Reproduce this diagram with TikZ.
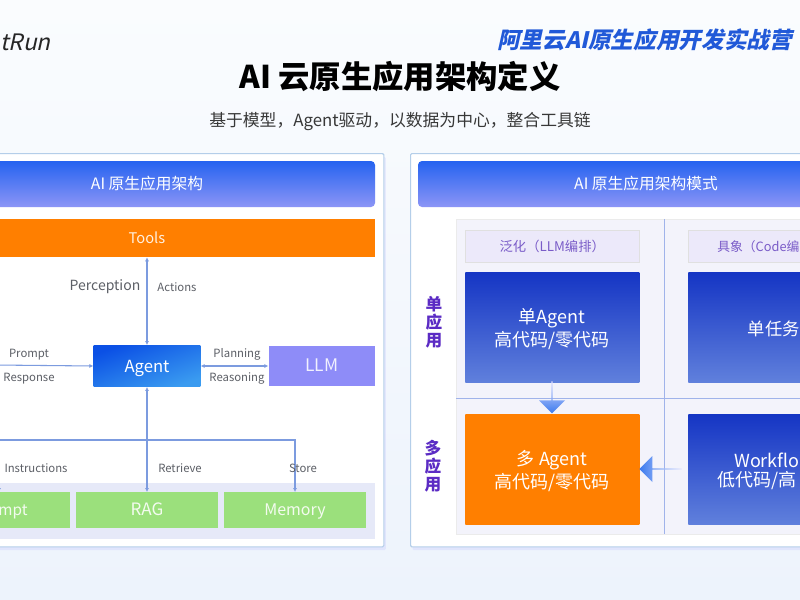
\documentclass[tikz,border=0pt]{standalone}
\usepackage{fontspec}
\setmainfont{Noto Sans CJK SC}
\newfontfamily\brandfont[FakeSlant=0.22]{Noto Sans CJK SC}
\usepackage{xcolor}
\usetikzlibrary{arrows.meta,calc,positioning,shadows,shapes.arrows}
\definecolor{pagetop}{HTML}{FAFCFE}
\definecolor{pagebot}{HTML}{EDF3FC}
\definecolor{linkblue}{HTML}{7C9BDF}
\definecolor{labelgray}{HTML}{5C5F66}
\definecolor{cardedge}{HTML}{B4CEE9}
\definecolor{headtop}{HTML}{2563F0}
\definecolor{headbot}{HTML}{8C95F6}
\definecolor{boxtop}{HTML}{1535C4}
\definecolor{boxbot}{HTML}{6080DC}
\definecolor{agentdark}{HTML}{0B50E5}
\definecolor{agentlight}{HTML}{3A9BF0}
\definecolor{toolorange}{HTML}{FF7F00}
\definecolor{leafgreen}{HTML}{9BE07C}
\definecolor{llmviolet}{HTML}{8E8CF8}
\definecolor{bandbg}{HTML}{E6E9F8}
\definecolor{cellbg}{HTML}{F3F3FB}
\definecolor{tagbg}{HTML}{ECE9FA}
\definecolor{tagtext}{HTML}{7A5CC8}
\definecolor{sidetext}{HTML}{5B2BC4}
\definecolor{arrowblue}{HTML}{3B7AEE}
\newcommand{\px}[1]{\fontsize{#1}{#1}\selectfont}
\newcommand{\upstrut}{\rule{0pt}{14pt}}
\tikzset{
  card/.style={draw=cardedge,line width=0.8pt,fill=white,rounded corners=1pt,anchor=north west,inner sep=0pt,
    drop shadow={opacity=0.12,shadow xshift=1.5pt,shadow yshift=-2.5pt,fill=blue!50}},
  header/.style={top color=headtop,bottom color=headbot,rounded corners=3pt,text=white,inner sep=0pt,minimum height=34.5pt,font=\px{11.8},text height=10pt,text depth=1.6pt},
  flat/.style={fill=#1,text=white!88!#1,inner sep=0pt,font=\px{11},text height=10pt,text depth=1.4pt},
  modebox/.style={top color=boxtop,bottom color=boxbot,text=white,inner sep=0pt,anchor=north west,minimum width=130.5pt,minimum height=82.5pt,align=center,font=\px{13.5}},
  tagbox/.style={fill=tagbg,draw=black!12,text=tagtext,inner sep=0pt,anchor=north west,minimum width=130.5pt,minimum height=24pt,font=\px{10},text height=9pt,text depth=1.4pt},
  link/.style={draw=linkblue,line width=0.8pt,{Latex[length=3pt,width=3pt]}-{Latex[length=3pt,width=3pt]}},
  halflink/.style={draw=linkblue,line width=0.8pt,-{Latex[length=3pt,width=3pt]}},
  tag/.style={text=labelgray,inner sep=0pt,font=\px{8.5}},
  side/.style={text=sidetext,inner sep=0pt,font=\px{12.5}\bfseries,align=center},
  blockarrow/.style={single arrow,inner sep=0pt,single arrow head extend=3.5pt,single arrow head indent=0pt,minimum width=19.5pt,minimum height=#1},
}
\begin{document}
\begin{tikzpicture}[x=0.75pt,y=-0.75pt,>=Latex]
  \useasboundingbox (0,0) rectangle (800,600);
  \shade[top color=pagetop,bottom color=pagebot] (0,0) rectangle (800,600);
  \node[anchor=west,inner sep=0pt,text=black!85] (brand) at (0,42) {\brandfont\px{17}tRun};
  \node[anchor=west,inner sep=0pt,text=headtop!90!black] (camp) at (497,40) {\brandfont\px{17}\bfseries 阿里云AI原生应用开发实战营};
  \node[inner sep=0pt] (title) at (400,77) {\px{23.5}\bfseries AI 云原生应用架构定义};
  \node[inner sep=0pt,text=black!78] (subtitle) at (400,121.5) {\px{12.6}基于模型，Agent驱动，以数据为中心，整合工具链};

  \node[card,minimum width=400pt,minimum height=295pt] (leftcard) at (-150,153) {};
  \node[card,minimum width=400pt,minimum height=295pt] (rightcard) at (410,153) {};

  \node[header,minimum width=342pt] (lefthead) at (147,184) {AI 原生应用架构};
  \node[flat=toolorange,minimum width=342pt,minimum height=28.5pt] (tools) at (147,238) {Tools};
  \node[fill=bandbg,minimum width=342pt,minimum height=42pt,inner sep=0pt] (store) at (147,511) {};
  \node[left color=agentdark,right color=agentlight,shading angle=20,text=white,inner sep=0pt,minimum width=80pt,minimum height=31pt,font=\px{12.5},text height=10.5pt,text depth=1.4pt] (agent) at (147,366) {Agent};
  \node[flat=llmviolet,minimum width=80pt,minimum height=30pt,font=\px{13}] (llm) at (322,366) {LLM};
  \node[flat=leafgreen,minimum width=106.5pt,minimum height=26.5pt] (prompt) at (-1,510) {};
  \node[inner sep=0pt,text=white!88!leafgreen,font=\px{11.5}] (prompttext) at (13,511.5) {mpt};
  \node[flat=leafgreen,minimum width=106.5pt,minimum height=26.5pt,font=\px{12.8}] (rag) at (147,510) {RAG};
  \node[flat=leafgreen,minimum width=106.5pt,minimum height=26.5pt,font=\px{12}] (memory) at (295,510) {Memory};

  \coordinate (promptin) at (-5,365);
  \coordinate (branch) at (147,440);
  \draw[link] (tools) -- (agent);
  \draw[link] (agent) -- (rag);
  \draw[link] (agent.west) -- (promptin);
  \draw[link] (agent) -- (llm);
  \draw[halflink] (branch) -| (memory.north);
  \draw[halflink] (branch) -| (prompt.north);

  \node[tag,font=\px{10.5}] (perception) at (105,286.5) {Perception};
  \foreach \n/\x/\y/\lab in {actions/177/287/Actions,promptlab/29/354.5/Prompt,response/29/379/Response,planning/237/354/Planning,reasoning/237/379/Reasoning,instructions/36/468/Instructions,retrieve/180/468/Retrieve,storelab/303/468/Store} {
    \node[tag] (\n) at (\x,\y) {\lab};
  }

  \node[header,minimum width=342pt] (righthead) at (646,184) {AI 原生应用架构模式};
  \node[fill=cellbg,draw=black!8,anchor=north west,inner sep=0pt,minimum width=300pt,minimum height=236pt] (grid) at (456,219) {};
  \draw[draw=boxbot!60,line width=0.7pt] (664,219) -- (664,534);
  \draw[draw=boxbot!60,line width=0.7pt] (456,398) -- (800,398);

  \node[tagbox] (generic) at (465,230) {泛化（LLM编排）};
  \node[tagbox,font=\px{9.6},text width=87pt,align=left] (concrete) at (688,230) {具象（Code编};
  \node[modebox] (single) at (465,272) {\upstrut 单Agent\\[0.8pt]高代码/零代码};
  \node[modebox,font=\px{13},text width=41pt,align=left] (task) at (688,272) {\upstrut 单任务};
  \node[modebox,top color=toolorange,bottom color=toolorange] (multi) at (465,414) {\upstrut 多 Agent\\[0.8pt]高代码/零代码};
  \node[modebox,text width=87pt,align=left] (workflow) at (688,414) {\upstrut\hspace*{12.75pt}Workflo\\[0.8pt]低代码/高};

  \foreach \n/\x/\y/\lab in {sideone/434/322/{单\\[1pt]应\\[1pt]用},sidetwo/433/466/{多\\[1pt]应\\[1pt]用}} {
    \node[side] (\n) at (\x,\y) {\lab};
  }

  \node[blockarrow=24pt,shape border rotate=270,top color=blue!12,bottom color=arrowblue] (downarrow) at (552,397) {};
  \node[blockarrow=32pt,shape border rotate=180,left color=arrowblue,right color=blue!8] (leftarrow) at (661,469) {};
\end{tikzpicture}
\end{document}
